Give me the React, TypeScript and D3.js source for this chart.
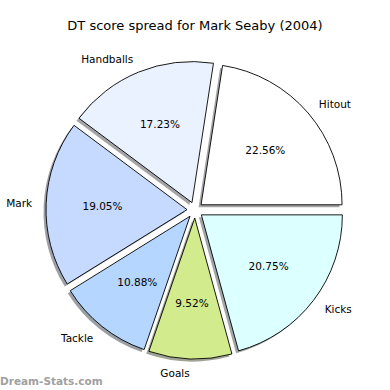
import { useEffect, useRef } from "react";
import * as d3 from "d3";

const categories = ["Hitout", "Handballs", "Mark", "Tackle", "Goals", "Kicks"];
const values = [22.56, 17.23, 19.05, 10.88, 9.52, 20.75];
const colors = ["#ffffff", "#ebf2ff", "#c6d9ff", "#b5d6ff", "#d2eb8c", "#dcffff"];
const title = "DT score spread for Mark Seaby (2004)";
const watermark = "Dream-Stats.com";

export default function App() {
  const svgRef = useRef<SVGSVGElement | null>(null);

  useEffect(() => {
    if (!svgRef.current) return;
    const width = 390;
    const height = 390;
    const cx = 195;
    const cy = 210;
    const r = 141;
    const explode = 8;
    const svg = d3.select(svgRef.current);
    svg.selectAll("*").remove();

    svg.append("rect").attr("width", width).attr("height", height).attr("fill", "#fff");

    // matplotlib style: start at 3 o'clock, go counterclockwise
    const pie = d3
      .pie<number>()
      .sort(null)
      .startAngle(Math.PI / 2)
      .endAngle(Math.PI / 2 - 2 * Math.PI);
    const arcs = pie(values);
    const arc = d3.arc<d3.PieArcDatum<number>>().innerRadius(0).outerRadius(r);
    const total = d3.sum(values);

    const dir = (a: d3.PieArcDatum<number>) => {
      const m = (a.startAngle + a.endAngle) / 2;
      return [Math.sin(m), -Math.cos(m)];
    };

    const g = svg.append("g").attr("transform", `translate(${cx},${cy})`);

    // shadows
    g.selectAll("path.shadow")
      .data(arcs)
      .enter()
      .append("path")
      .attr("class", "shadow")
      .attr("d", d => arc(d) as string)
      .attr("transform", d => {
        const [dx, dy] = dir(d);
        return `translate(${dx * explode - 2.5},${dy * explode + 2.5})`;
      })
      .attr("fill", (_d, i) => {
        const c = d3.rgb(colors[i]);
        return d3.rgb(c.r * 0.3, c.g * 0.3, c.b * 0.3).toString();
      })
      .attr("fill-opacity", 0.5);

    g.selectAll("path.slice")
      .data(arcs)
      .enter()
      .append("path")
      .attr("class", "slice")
      .attr("d", d => arc(d) as string)
      .attr("transform", d => {
        const [dx, dy] = dir(d);
        return `translate(${dx * explode},${dy * explode})`;
      })
      .attr("fill", (_d, i) => colors[i])
      .attr("stroke", "#000")
      .attr("stroke-width", 0.9)
      .attr("stroke-linejoin", "round");

    // percentages
    g.selectAll("text.pct")
      .data(arcs)
      .enter()
      .append("text")
      .attr("class", "pct")
      .attr("x", d => dir(d)[0] * (explode + r * 0.6))
      .attr("y", d => dir(d)[1] * (explode + r * 0.6))
      .attr("text-anchor", "middle")
      .attr("dominant-baseline", "central")
      .attr("font-family", "DejaVu Sans")
      .attr("font-size", 10.5)
      .text(d => ((d.value / total) * 100).toFixed(2) + "%");

    // labels
    g.selectAll("text.lbl")
      .data(arcs)
      .enter()
      .append("text")
      .attr("class", "lbl")
      .attr("x", d => dir(d)[0] * (explode + r * 1.1))
      .attr("y", d => dir(d)[1] * (explode + r * 1.1))
      .attr("text-anchor", d => (dir(d)[0] > 0 ? "start" : "end"))
      .attr("dominant-baseline", "central")
      .attr("font-family", "DejaVu Sans")
      .attr("font-size", 10.5)
      .text((_d, i) => categories[i]);

    svg
      .append("text")
      .attr("x", cx)
      .attr("y", 30)
      .attr("text-anchor", "middle")
      .attr("font-family", "DejaVu Sans")
      .attr("font-size", 13)
      .text(title);

    svg
      .append("text")
      .attr("x", 0)
      .attr("y", 385)
      .attr("font-family", "DejaVu Sans")
      .attr("font-weight", "bold")
      .attr("font-size", 10.5)
      .attr("fill", "#a0a0a0")
      .text(watermark);
  }, []);

  return (
    <svg
      ref={svgRef}
      width={390}
      height={390}
      style={{ position: "absolute", left: 0, top: 0 }}
    />
  );
}
